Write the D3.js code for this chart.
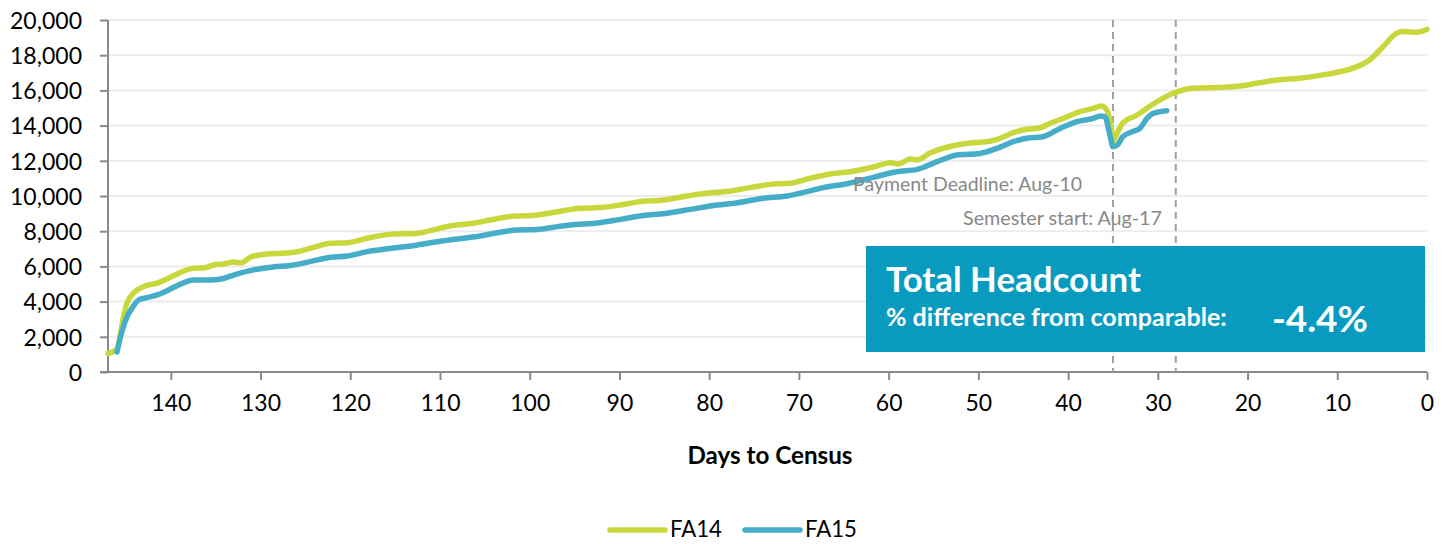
<!DOCTYPE html>
<html><head><meta charset="utf-8">
<script src="https://cdn.jsdelivr.net/npm/d3@7"></script>
<style>body{margin:0;background:#fff}svg{display:block}text{font-family:Lato,"Noto Sans",sans-serif}</style>
</head><body><svg id="c" width="1449" height="544"></svg>
<script>
const fa14Days = [147,146,145.4,144.9,144,142.9,141.5,140.7,139.6,137.4,136.3,135.2,134.1,133,132.2,131.1,129.3,127.1,126.3,124.5,122.2,120.3,118.1,115.6,112.5,111.1,108.9,106.3,104.4,102.2,99.2,96.9,94.4,92.2,89.9,87.7,85.1,82.5,79.9,78,75.4,73.2,71,68.8,66.5,64.3,61.7,59.8,58.9,57.6,56.8,55.4,52.4,50.6,49,47.6,46.1,44.6,43.1,42,40.1,38.7,37.2,36.3,35.7,35.2,35,34.5,33.9,32.3,30.9,29.4,28.2,26.4,23.4,20.8,18.6,16.7,14.2,11.6,9.7,7.8,6.4,4.9,3.4,2.7,1.1,0];
const fa14Values = [1050,1300,2800,3900,4550,4880,5050,5220,5500,5900,5910,6080,6140,6250,6200,6530,6700,6760,6800,7020,7310,7350,7600,7820,7880,8030,8300,8450,8640,8830,8920,9110,9300,9340,9490,9680,9770,10000,10190,10250,10490,10660,10720,11000,11250,11380,11650,11890,11820,12100,12050,12440,12900,13030,13090,13280,13600,13790,13880,14130,14500,14790,14980,15110,14900,13900,13150,13600,14150,14600,15100,15560,15850,16110,16170,16250,16440,16590,16690,16880,17060,17350,17730,18480,19240,19340,19300,19470];
const fa15Days = [146,145.4,144.9,144.3,143.6,142.9,141.5,140.7,139.6,137.4,135.5,134.4,133,130.8,128.6,126.7,124.5,122.2,120.3,118.1,115.6,112.5,110.3,107.4,105.5,103.6,101.4,99.2,96.9,95.5,92.2,89.9,86.9,84.7,82.1,79.1,77.3,74,71.3,69.1,66.8,65.4,61.7,59.1,56.8,54.6,52.4,49.8,47.9,46.1,44.6,42.8,40.9,39,37.2,36.4,35.9,35.3,35,34.5,33.9,32.8,32,31.2,30.5,29];
const fa15Values = [1140,2390,3120,3640,4090,4200,4380,4550,4830,5230,5230,5280,5510,5800,5970,6050,6270,6520,6590,6840,7020,7220,7400,7600,7730,7910,8070,8100,8260,8350,8480,8670,8920,9020,9240,9490,9580,9870,10000,10250,10530,10620,11060,11380,11510,11950,12330,12420,12710,13090,13280,13370,13840,14220,14410,14550,14500,13370,12800,12900,13370,13660,13840,14410,14700,14850];
const seriesNames = ["FA14","FA15"];
const seriesColors = ["#C8D83C","#46ADC8"];
const yTicks = [0,2000,4000,6000,8000,10000,12000,14000,16000,18000,20000];
const xTicks = [140,130,120,110,100,90,80,70,60,50,40,30,20,10,0];
const markerDays = [35,28];
const markerLabels = ["Payment Deadline: Aug-10","Semester start: Aug-17"];
const xTitle = "Days to Census";
const boxTitle = "Total Headcount";
const boxSub = "% difference from comparable:";
const boxValue = "-4.4%";

const svg = d3.select("#c");
const x = d3.scaleLinear().domain([147,0]).range([108,1427]);
const y = d3.scaleLinear().domain([0,20000]).range([372,20]);

function fit(sel, target){
  const w = sel.node().getComputedTextLength();
  const fs = parseFloat(sel.attr("font-size"));
  sel.attr("font-size", fs*target/w);
  return fs*target/w;
}

// grid
svg.append("g").selectAll("line").data(yTicks.filter(d=>d>0)).join("line")
  .attr("x1",108).attr("x2",1427).attr("y1",d=>y(d)).attr("y2",d=>y(d))
  .attr("stroke","#ececec").attr("stroke-width",2);

// y axis
const ya = svg.append("g").attr("transform","translate(108,0)")
  .call(d3.axisLeft(y).tickValues(yTicks).tickSize(8).tickPadding(18).tickFormat(d3.format(",")));
ya.select(".domain").attr("stroke","#8a8a8a").attr("stroke-width",2).attr("d","M0,20V372");
ya.selectAll(".tick line").attr("stroke","#8a8a8a").attr("stroke-width",2);
const yLab = ya.selectAll(".tick text").attr("font-size",21).attr("fill","#000").attr("dy","0.36em");
{
  const top = yLab.filter(d=>d===20000);
  const fs = 21*72/top.node().getComputedTextLength();
  yLab.attr("font-size",fs);
}

// x axis
const xa = svg.append("g").attr("transform","translate(0,372)")
  .call(d3.axisBottom(x).tickValues(xTicks).tickSize(8).tickPadding(15));
xa.select(".domain").attr("stroke","#8a8a8a").attr("stroke-width",2).attr("d","M100,0H1427");
xa.selectAll(".tick line").attr("stroke","#8a8a8a").attr("stroke-width",2);
const xLab = xa.selectAll(".tick text").attr("font-size",21).attr("fill","#000");
{
  const first = xLab.filter(d=>d===140);
  const fs = 21*40/first.node().getComputedTextLength();
  xLab.attr("font-size",fs);
}

// dashed markers
svg.append("g").selectAll("line").data(markerDays).join("line")
  .attr("x1",d=>x(d)).attr("x2",d=>x(d)).attr("y1",y(20000)).attr("y2",y(0))
  .attr("stroke","#a0a0a0").attr("stroke-width",2).attr("stroke-dasharray","7,5");

// lines
const line = d3.line().x(d=>x(d[0])).y(d=>y(d[1])).curve(d3.curveMonotoneX);
const data = [fa14Days.map((d,i)=>[d,fa14Values[i]]), fa15Days.map((d,i)=>[d,fa15Values[i]])];
svg.append("g").selectAll("path").data(data).join("path")
  .attr("d",line).attr("fill","none").attr("stroke",(d,i)=>seriesColors[i])
  .attr("stroke-width",5.5).attr("stroke-linejoin","round").attr("stroke-linecap","round");

// marker labels
const ml1 = svg.append("text").attr("x",1082).attr("y",191).attr("text-anchor","end")
  .attr("font-size",18).attr("fill","#888").text(markerLabels[0]);
fit(ml1,229);
const ml2 = svg.append("text").attr("x",1162).attr("y",225).attr("text-anchor","end")
  .attr("font-size",18).attr("fill","#888").text(markerLabels[1]);
fit(ml2,199);

// box
svg.append("rect").attr("x",866).attr("y",246).attr("width",559).attr("height",106).attr("fill","#089BBF");
const t1 = svg.append("text").attr("x",886).attr("y",292).attr("font-size",30).attr("font-weight","bold").attr("fill","#fff").text(boxTitle);
fit(t1,255);
const t2 = svg.append("text").attr("x",886).attr("y",326).attr("font-size",20).attr("font-weight","bold").attr("fill","#fff").text(boxSub);
fit(t2,341);
const t3 = svg.append("text").attr("x",1272).attr("y",332).attr("font-size",33).attr("font-weight","bold").attr("fill","#fff").text(boxValue);
fit(t3,96);

// x title
const xt = svg.append("text").attr("x",770).attr("y",464).attr("text-anchor","middle")
  .attr("font-size",20).attr("font-weight","bold").attr("fill","#000").text(xTitle);
fit(xt,165);

// legend
const lg = svg.append("g");
const legX = [610,745];
seriesNames.forEach((n,i)=>{
  lg.append("line").attr("x1",legX[i]).attr("x2",legX[i]+55).attr("y1",530).attr("y2",530)
    .attr("stroke",seriesColors[i]).attr("stroke-width",5.5).attr("stroke-linecap","round");
  const t = lg.append("text").attr("x",legX[i]+60).attr("y",537).attr("font-size",21).attr("fill","#000").text(n);
  fit(t,52);
});
</script></body></html>
